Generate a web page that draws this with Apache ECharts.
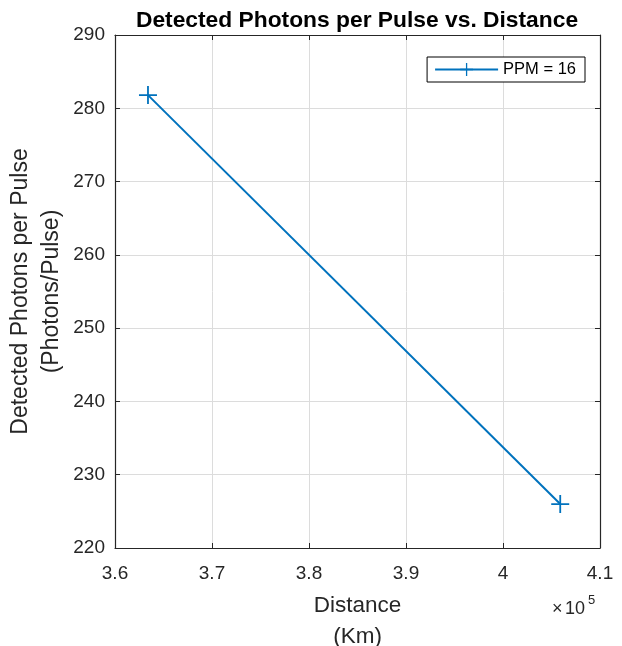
<!DOCTYPE html>
<html><head><meta charset="utf-8">
<script src="https://cdn.jsdelivr.net/npm/echarts@6/dist/echarts.min.js"></script>
<style>html,body{margin:0;padding:0;background:#fff}#c{width:622px;height:646px}</style>
</head><body><div id="c"></div>
<script>
const distances = [363400, 405900];
const photons = [281.8, 226.0];
const seriesName = 'PPM = 16';
const xTicks = [3.6, 3.7, 3.8, 3.9, 4, 4.1];
const yTicks = [220, 230, 240, 250, 260, 270, 280, 290];

const FONT = '"Liberation Sans", Arial, sans-serif';
const chart = echarts.init(document.getElementById('c'));
const plusPath = 'path://M9,0 H11 V9 H20 V11 H11 V20 H9 V11 H0 V9 H9 Z';
const axisCommon = {
  axisLine: {show: true, onZero: false, lineStyle: {color: '#262626', width: 1.2}},
  axisTick: {show: true, inside: true, length: 5, lineStyle: {color: '#262626'}},
};
chart.setOption({
  animation: false,
  title: {text: 'Detected Photons per Pulse vs. Distance', left: 352, top: 4, textAlign: 'center',
    textStyle: {fontFamily: FONT, fontSize: 22.8, fontWeight: 'bold', color: '#000'}},
  grid: {left: 115, right: 22, top: 35, bottom: 98, show: false, containLabel: false, outerBoundsMode: 'none'},
  legend: {right: 37, top: 57, orient: 'horizontal', itemWidth: 63, itemHeight: 16, itemGap: 4,
    borderColor: '#000', borderWidth: 1, padding: [4, 9, 4, 7], backgroundColor: '#fff',
    textStyle: {fontFamily: FONT, fontSize: 16.5, color: '#000'}, data: [seriesName]},
  xAxis: [{
    type: 'value', min: 360000, max: 410000, interval: 10000, position: 'bottom',
    ...axisCommon,
    splitLine: {show: true, lineStyle: {color: '#dcdcdc', width: 1}},
    axisLabel: {fontFamily: FONT, fontSize: 19, color: '#262626', margin: 16,
      formatter: v => String(Math.round(v / 1e4) / 10)},
    name: 'Distance\n(Km)', nameLocation: 'middle', nameGap: 42, nameMoveOverlap: false,
    nameTextStyle: {fontFamily: FONT, fontSize: 22.5, color: '#262626', lineHeight: 31}
  }, {
    type: 'value', min: 360000, max: 410000, interval: 10000, position: 'top',
    ...axisCommon, axisLabel: {show: false}, splitLine: {show: false}
  }],
  yAxis: [{
    type: 'value', min: 220, max: 290, interval: 10, position: 'left',
    ...axisCommon,
    splitLine: {show: true, lineStyle: {color: '#dcdcdc', width: 1}},
    axisLabel: {fontFamily: FONT, fontSize: 19, color: '#262626', margin: 10},
    name: 'Detected Photons per Pulse\n(Photons/Pulse)', nameLocation: 'middle', nameGap: 48,
    nameMoveOverlap: false,
    nameTextStyle: {fontFamily: FONT, fontSize: 23, color: '#262626', lineHeight: 31}
  }, {
    type: 'value', min: 220, max: 290, interval: 10, position: 'right',
    ...axisCommon, axisLabel: {show: false}, splitLine: {show: false}
  }],
  graphic: [
    {type: 'text', left: 552, top: 600, style: {text: '×', font: '18px ' + FONT, fill: '#262626'}},
    {type: 'text', left: 565, top: 600, style: {text: '10', font: '18px ' + FONT, fill: '#262626'}},
    {type: 'text', left: 588, top: 594, style: {text: '5', font: '13px ' + FONT, fill: '#262626'}}
  ],
  series: [{
    name: seriesName, type: 'line', xAxisIndex: 0, yAxisIndex: 0,
    data: distances.map((d, i) => [d, photons[i]]),
    symbol: plusPath, symbolSize: 18, showSymbol: true,
    lineStyle: {color: '#0072BD', width: 2},
    itemStyle: {color: '#0072BD'}
  }]
});
</script></body></html>
